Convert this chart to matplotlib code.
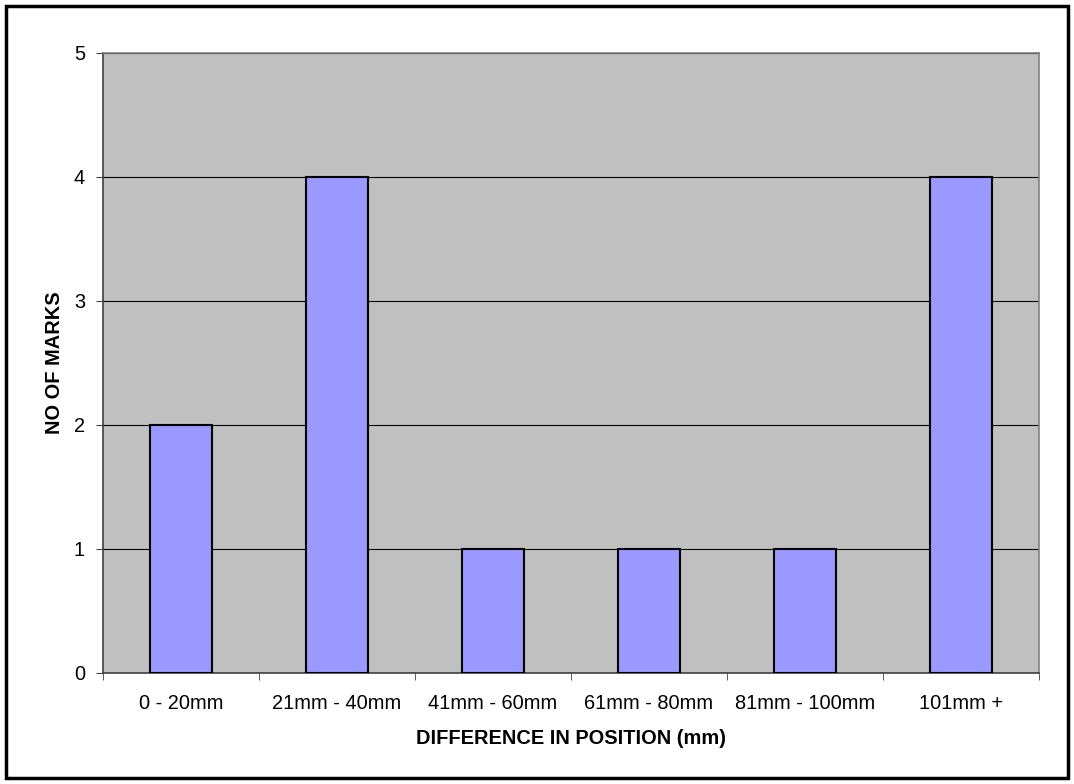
import numpy as np
import matplotlib.pyplot as plt
from matplotlib.patches import Rectangle

plt.rcParams['font.family'] = ['Liberation Sans', 'DejaVu Sans']

categories = ['0 - 20mm', '21mm - 40mm', '41mm - 60mm', '61mm - 80mm', '81mm - 100mm', '101mm +']
marks = [2, 4, 1, 1, 1, 4]

fig = plt.figure(figsize=(10.74, 7.84), dpi=100)
ax = fig.add_axes([103/1074, 1 - 673/784, (1039-103)/1074, (673-53)/784])
ax.set_facecolor('#C0C0C0')

x = np.arange(len(categories))
ax.bar(x, marks, width=0.4, color='#9999FF', edgecolor='black', linewidth=1.5, zorder=3)

ax.set_xlim(-0.5, len(categories) - 0.5)
ax.set_ylim(0, 5)
ax.set_yticks(range(6))
ax.yaxis.grid(True, color='black', linewidth=0.8, zorder=1)
ax.set_axisbelow(True)

fs = 14.4
ax.set_xticks(x)
ax.set_xticklabels(categories, fontsize=fs)
ax.tick_params(axis='x', which='major', length=0, pad=15)
ax.set_xticks(np.arange(-0.5, len(categories)), minor=True)
ax.tick_params(axis='x', which='minor', length=5, color='#404040')
ax.tick_params(axis='y', labelsize=fs, length=5, color='#404040', pad=8)

for s in ['left', 'bottom']:
    ax.spines[s].set_color('#404040')
    ax.spines[s].set_linewidth(1.2)
for s in ['top', 'right']:
    ax.spines[s].set_color('#808080')
    ax.spines[s].set_linewidth(1.2)

ax.set_xlabel('DIFFERENCE IN POSITION (mm)', fontsize=fs, fontweight='bold', labelpad=12)
ax.set_ylabel('NO OF MARKS', fontsize=fs, fontweight='bold', labelpad=7)

# outer chart border
fig.patches.append(Rectangle((6/1074, 1 - 778/784), (1068-6)/1074, (778-6)/784,
                             transform=fig.transFigure, fill=False,
                             edgecolor='black', linewidth=2.5))

fig.savefig('out.png', dpi=100)
